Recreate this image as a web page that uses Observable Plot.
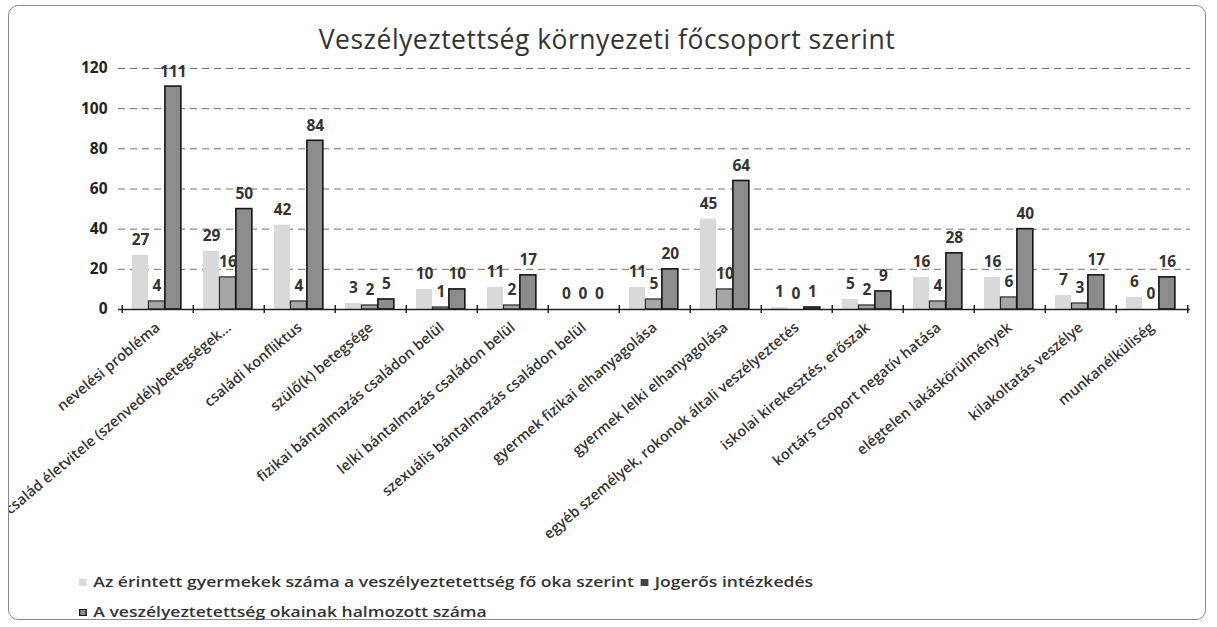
<!DOCTYPE html>
<html>
<head>
<meta charset="utf-8">
<script src="https://cdn.jsdelivr.net/npm/d3@7"></script>
<script src="https://cdn.jsdelivr.net/npm/@observablehq/plot@0.6"></script>
<style>
  html, body { margin: 0; padding: 0; background: #fff; }
  body { width: 1217px; height: 627px; overflow: hidden; font-family: "Open Sans", Lato, sans-serif; }
  #frame { position: absolute; left: 8px; top: 5px; width: 1198px; height: 615px; border: 1px solid #8a8a8a; border-radius: 10px; box-sizing: border-box; }
  #title { position: absolute; left: 0; top: 15px; width: 1196px; text-align: center; font-size: 26.5px; letter-spacing: 0.5px; color: #333; }
  #chart { position: absolute; left: 0; top: 45px; }
  .leg { position: absolute; left: 70px; font-size: 13.5px; font-weight: 600; color: #333; display: flex; align-items: center; white-space: nowrap; transform: scaleX(1.3); transform-origin: left center; }
  .sw { display: inline-block; width: 6px; height: 7px; margin-right: 5px; box-sizing: border-box; }
</style>
</head>
<body>
<div id="frame">
  <div id="title"></div>
  <div id="chart"></div>
  <div class="leg" id="leg1" style="top:567px"></div>
  <div class="leg" id="leg2" style="top:597px"></div>
</div>
<script>
const title = "Veszélyeztettség környezeti főcsoport szerint";
const categories = [
  "nevelési probléma",
  "család életvitele (szenvedélybetegségek…",
  "családi konfliktus",
  "szülő(k) betegsége",
  "fizikai bántalmazás családon belül",
  "lelki bántalmazás családon belül",
  "szexuális bántalmazás családon belül",
  "gyermek fizikai elhanyagolása",
  "gyermek lelki elhanyagolása",
  "egyéb személyek, rokonok általi veszélyeztetés",
  "iskolai kirekesztés, erőszak",
  "kortárs csoport negatív hatása",
  "elégtelen lakáskörülmények",
  "kilakoltatás veszélye",
  "munkanélküliség"
];
const affected   = [27, 29, 42, 3, 10, 11, 0, 11, 45, 1, 5, 16, 16, 7, 6];
const legal      = [4, 16, 4, 2, 1, 2, 0, 5, 10, 0, 2, 4, 6, 3, 0];
const cumulative = [111, 50, 84, 5, 10, 17, 0, 20, 64, 1, 9, 28, 40, 17, 16];
const seriesNames = [
  "Az érintett gyermekek száma a veszélyeztetettség fő oka szerint",
  "Jogerős intézkedés",
  "A veszélyeztetettség okainak halmozott száma"
];
const yTicks = [0, 20, 40, 60, 80, 100, 120];

const colors = {
  s1: { fill: "#d9d9d9", stroke: "none" },
  s2: { fill: "#a6a6a6", stroke: "#2a2a2a" },
  s3: { fill: "#8c8c8c", stroke: "#151515" }
};

document.getElementById("title").textContent = title;

const W = 1196, H = 510, ML = 109, MR = 15;
const bw = (W - ML - MR) / categories.length;
const barW = bw * 0.23;
const start = bw * 0.14;
const ins = k => ({ insetLeft: start + k * barW, insetRight: bw - (start + (k + 1) * barW) });
const off = k => start + (k + 0.5) * barW - bw / 2;

const rows = categories.map((c, i) => ({ cat: c, a: affected[i], l: legal[i], c: cumulative[i] }));

const chart = Plot.plot({
  width: W, height: H,
  marginTop: 17, marginBottom: 252, marginLeft: ML, marginRight: MR,
  style: { fontFamily: "'Open Sans', Lato, sans-serif", color: "#333", background: "transparent" },
  x: { domain: categories, padding: 0, label: null, axis: null },
  y: { domain: [0, 120], label: null, axis: null },
  marks: [
    Plot.gridY(yTicks.filter(t => t > 0), { stroke: "#333", strokeOpacity: 0.7, strokeDasharray: "7,5" }),
    Plot.axisY(yTicks, { tickSize: 0, tickPadding: 11, label: null, fontWeight: "bold", fontSize: 15.5, fill: "#222" }),
    Plot.axisX({ tickRotate: -40, tickSize: 0, tickPadding: 16, label: null, fontSize: 14.5, fontWeight: "600", fill: "#333" }),
    Plot.barY(rows, { x: "cat", y: "a", fill: colors.s1.fill, ...ins(0) }),
    Plot.barY(rows, { x: "cat", y: "l", fill: colors.s2.fill, stroke: colors.s2.stroke, strokeWidth: 1.2, ...ins(1) }),
    Plot.barY(rows, { x: "cat", y: "c", fill: colors.s3.fill, stroke: colors.s3.stroke, strokeWidth: 1.6, ...ins(2) }),
    Plot.ruleY([0], { stroke: "#222", strokeWidth: 1.5 }),
    Plot.ruleX(categories, { x: d => d, y1: -2, y2: 2, dx: -bw / 2, stroke: "#222", strokeWidth: 1.5 }),
    Plot.ruleX(categories.slice(-1), { x: d => d, y1: -2, y2: 2, dx: bw / 2, stroke: "#222", strokeWidth: 1.5 }),
    Plot.text(rows, { x: "cat", y: "a", text: d => String(d.a), dx: off(0), dy: -15, fontWeight: "bold", fontSize: 15.5, fill: "#333" }),
    Plot.text(rows, { x: "cat", y: "l", text: d => String(d.l), dx: off(1), dy: -15, fontWeight: "bold", fontSize: 15.5, fill: "#333" }),
    Plot.text(rows, { x: "cat", y: "c", text: d => String(d.c), dx: off(2), dy: -15, fontWeight: "bold", fontSize: 15.5, fill: "#333" })
  ]
});
document.getElementById("chart").appendChild(chart);

document.getElementById("leg1").innerHTML =
  `<span class="sw" style="background:${colors.s1.fill}"></span>${seriesNames[0]}` +
  `<span class="sw" style="background:#444;margin-left:5px"></span>${seriesNames[1]}`;
document.getElementById("leg2").innerHTML =
  `<span class="sw" style="background:${colors.s3.fill};border:1.5px solid #151515"></span>${seriesNames[2]}`;
</script>
</body>
</html>
